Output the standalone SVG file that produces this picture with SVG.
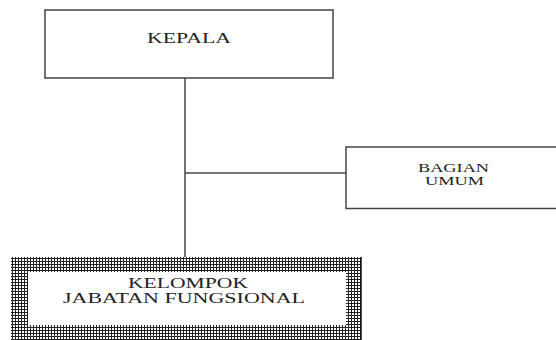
<svg xmlns="http://www.w3.org/2000/svg" width="556" height="340" viewBox="0 0 556 340">
<defs>
<pattern id="grid" width="3" height="3" patternUnits="userSpaceOnUse">
<rect width="3" height="3" fill="#222"/>
<rect x="1" y="1" width="2" height="2" fill="#fff"/>
</pattern>
</defs>
<style>
.box{fill:#fff;stroke:#444;stroke-width:1.5}
.t{font-family:"Liberation Serif",serif;font-size:15px;fill:#222;text-anchor:middle}
.s{font-size:12.5px}
.m{font-size:14px}
.c{stroke:#444;stroke-width:1.5;fill:none}
</style>
<rect width="556" height="340" fill="#fff"/>
<g id="connectors">
<line class="c" x1="185" y1="78" x2="185" y2="258"/>
<line class="c" x1="185" y1="173" x2="346" y2="173"/>
</g>
<g id="kepala">
<rect class="box" x="45" y="10" width="288" height="68"/>
<text class="t" x="189" y="43" textLength="84" lengthAdjust="spacingAndGlyphs">KEPALA</text>
</g>
<g id="bagian-umum">
<path class="box" d="M557 147 H346 V208.5 H557"/>
<text class="t s" x="453.5" y="172" textLength="71" lengthAdjust="spacingAndGlyphs">BAGIAN</text>
<text class="t s" x="454.5" y="185" textLength="59" lengthAdjust="spacingAndGlyphs">UMUM</text>
</g>
<g id="kelompok">
<rect x="11" y="257" width="350" height="90" fill="url(#grid)"/>
<line x1="361" y1="257" x2="361" y2="340" stroke="#111" stroke-width="1.5"/>
<rect x="28" y="272" width="318" height="53" fill="#fff"/>
<text class="t m" x="188" y="288" textLength="120" lengthAdjust="spacingAndGlyphs">KELOMPOK</text>
<text class="t m" x="184" y="303" textLength="242" lengthAdjust="spacingAndGlyphs">JABATAN FUNGSIONAL</text>
</g>
</svg>
